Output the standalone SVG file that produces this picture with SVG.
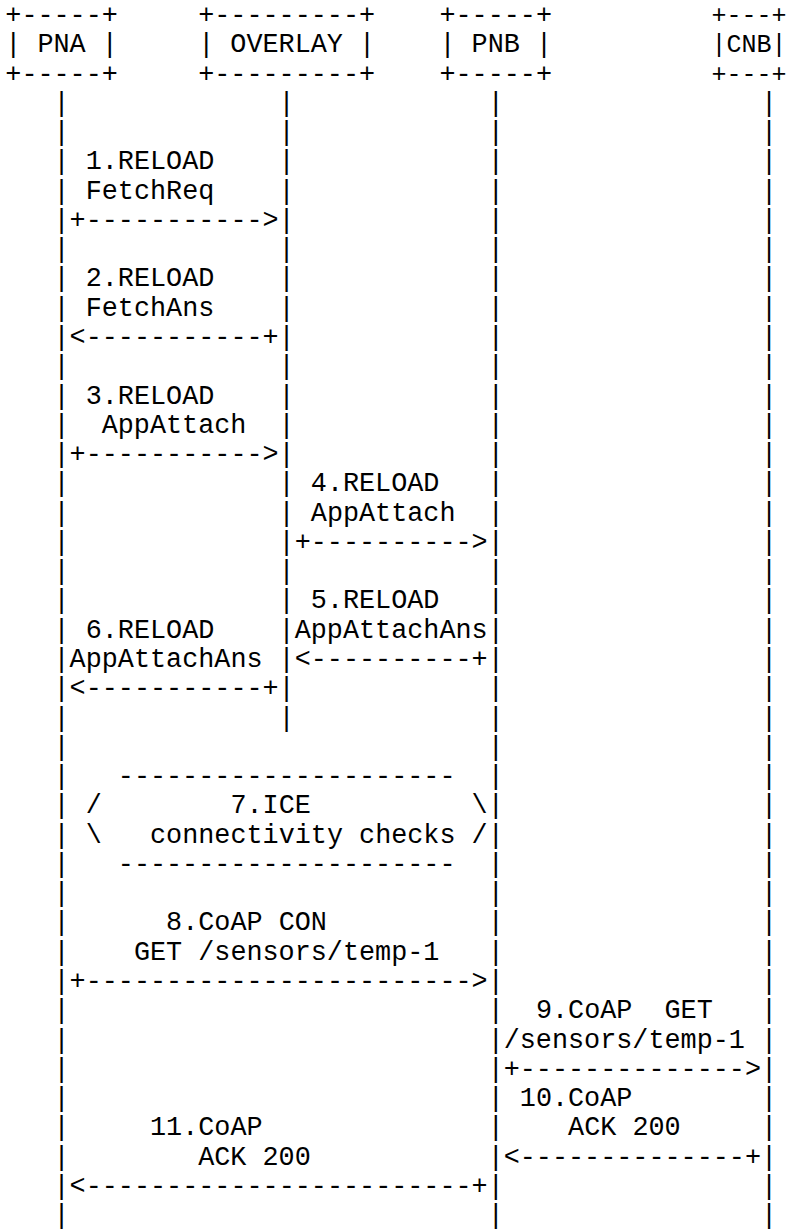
<svg xmlns="http://www.w3.org/2000/svg" width="788" height="1229" viewBox="0 0 788 1229" xml:space="preserve">
<style>
text{font-family:"Courier New","Liberation Mono",monospace;font-size:26.8px;fill:#000;white-space:pre}
.fit{font-size:25px}
</style>
<rect width="788" height="1229" fill="#fff"/>
<g id="node-pna">
<text x="5.3" y="23">+-----+</text>
<text x="5.3" y="52.3">| PNA |</text>
<text x="5.3" y="81.5">+-----+</text>
</g>
<g id="node-overlay">
<text x="198.2" y="23">+---------+</text>
<text x="198.2" y="52.3">| OVERLAY |</text>
<text x="198.2" y="81.5">+---------+</text>
</g>
<g id="node-pnb">
<text x="439.4" y="23">+-----+</text>
<text x="439.4" y="52.3">| PNB |</text>
<text x="439.4" y="81.5">+-----+</text>
</g>
<g id="node-cnb">
<text class="fit" x="711.5" y="23">+---+</text>
<text class="fit" x="711.5" y="52.3">|CNB|</text>
<text class="fit" x="711.5" y="81.5">+---+</text>
</g>
<g id="lifelines">
<text x="53.5 53.5 53.5 53.5 53.5 53.5 53.5 53.5 53.5 53.5 53.5 53.5 53.5 53.5 53.5 53.5 53.5 53.5 53.5 53.5 53.5 53.5 53.5 53.5 53.5 53.5 53.5 53.5 53.5 53.5 53.5 53.5 53.5 53.5 53.5 53.5 53.5 53.5 53.5" y="110.8 140.1 169.4 198.6 227.9 257.2 286.4 315.7 345.0 374.2 403.5 432.8 462.1 491.3 520.6 549.9 579.1 608.4 637.7 666.9 696.2 725.5 754.8 784.0 813.3 842.6 871.8 901.1 930.4 959.6 988.9 1018.2 1047.5 1076.7 1106.0 1135.3 1164.5 1193.8 1223.1">|||||||||||||||||||||||||||||||||||||||</text>
<text x="278.6 278.6 278.6 278.6 278.6 278.6 278.6 278.6 278.6 278.6 278.6 278.6 278.6 278.6 278.6 278.6 278.6 278.6 278.6 278.6 278.6 278.6" y="110.8 140.1 169.4 198.6 227.9 257.2 286.4 315.7 345.0 374.2 403.5 432.8 462.1 491.3 520.6 549.9 579.1 608.4 637.7 666.9 696.2 725.5">||||||||||||||||||||||</text>
<text x="487.7 487.7 487.7 487.7 487.7 487.7 487.7 487.7 487.7 487.7 487.7 487.7 487.7 487.7 487.7 487.7 487.7 487.7 487.7 487.7 487.7 487.7 487.7 487.7 487.7 487.7 487.7 487.7 487.7 487.7 487.7 487.7 487.7 487.7 487.7 487.7 487.7 487.7 487.7" y="110.8 140.1 169.4 198.6 227.9 257.2 286.4 315.7 345.0 374.2 403.5 432.8 462.1 491.3 520.6 549.9 579.1 608.4 637.7 666.9 696.2 725.5 754.8 784.0 813.3 842.6 871.8 901.1 930.4 959.6 988.9 1018.2 1047.5 1076.7 1106.0 1135.3 1164.5 1193.8 1223.1">|||||||||||||||||||||||||||||||||||||||</text>
<text x="761.0 761.0 761.0 761.0 761.0 761.0 761.0 761.0 761.0 761.0 761.0 761.0 761.0 761.0 761.0 761.0 761.0 761.0 761.0 761.0 761.0 761.0 761.0 761.0 761.0 761.0 761.0 761.0 761.0 761.0 761.0 761.0 761.0 761.0 761.0 761.0 761.0 761.0 761.0" y="110.8 140.1 169.4 198.6 227.9 257.2 286.4 315.7 345.0 374.2 403.5 432.8 462.1 491.3 520.6 549.9 579.1 608.4 637.7 666.9 696.2 725.5 754.8 784.0 813.3 842.6 871.8 901.1 930.4 959.6 988.9 1018.2 1047.5 1076.7 1106.0 1135.3 1164.5 1193.8 1223.1">|||||||||||||||||||||||||||||||||||||||</text>
</g>
<g id="connectors">
<g id="msg1">
<text x="85.7" y="169.4">1.RELOAD</text>
<text x="85.7" y="198.6">FetchReq</text>
<text x="69.6" y="227.9">+-----------&gt;</text>
</g>
<g id="msg2">
<text x="85.7" y="286.4">2.RELOAD</text>
<text x="85.7" y="315.7">FetchAns</text>
<text x="69.6" y="345.0">&lt;-----------+</text>
</g>
<g id="msg3">
<text x="85.7" y="403.5">3.RELOAD</text>
<text x="101.7" y="432.8">AppAttach</text>
<text x="69.6" y="462.1">+-----------&gt;</text>
</g>
<g id="msg4">
<text x="310.8" y="491.3">4.RELOAD</text>
<text x="310.8" y="520.6">AppAttach</text>
<text x="294.7" y="549.9">+----------&gt;</text>
</g>
<g id="msg5">
<text x="310.8" y="608.4">5.RELOAD</text>
<text x="294.7" y="637.7">AppAttachAns</text>
<text x="294.7" y="666.9">&lt;----------+</text>
</g>
<g id="msg6">
<text x="85.7" y="637.7">6.RELOAD</text>
<text x="69.6" y="666.9">AppAttachAns</text>
<text x="69.6" y="696.2">&lt;-----------+</text>
</g>
<g id="msg8">
<text x="166.1" y="930.4">8.CoAP CON</text>
<text x="133.9" y="959.6">GET /sensors/temp-1</text>
<text x="69.6" y="988.9">+------------------------&gt;</text>
</g>
<g id="msg9">
<text x="535.9" y="1018.2">9.CoAP  GET</text>
<text x="503.7" y="1047.5">/sensors/temp-1</text>
<text x="503.7" y="1076.7">+--------------&gt;</text>
</g>
<g id="msg10">
<text x="519.8" y="1106.0">10.CoAP</text>
<text x="568.1" y="1135.3">ACK 200</text>
<text x="503.7" y="1164.5">&lt;--------------+</text>
</g>
<g id="msg11">
<text x="150.0" y="1135.3">11.CoAP</text>
<text x="198.2" y="1164.5">ACK 200</text>
<text x="69.6" y="1193.8">&lt;------------------------+</text>
</g>
</g>
<g id="node-ice">
<text x="117.8" y="784.0">---------------------</text>
<text x="85.7" y="813.3">/</text>
<text x="230.4" y="813.3">7.ICE</text>
<text x="471.6" y="813.3">\</text>
<text x="85.7" y="842.6">\</text>
<text x="150.0" y="842.6">connectivity checks</text>
<text x="471.6" y="842.6">/</text>
<text x="117.8" y="871.8">---------------------</text>
</g>
</svg>
